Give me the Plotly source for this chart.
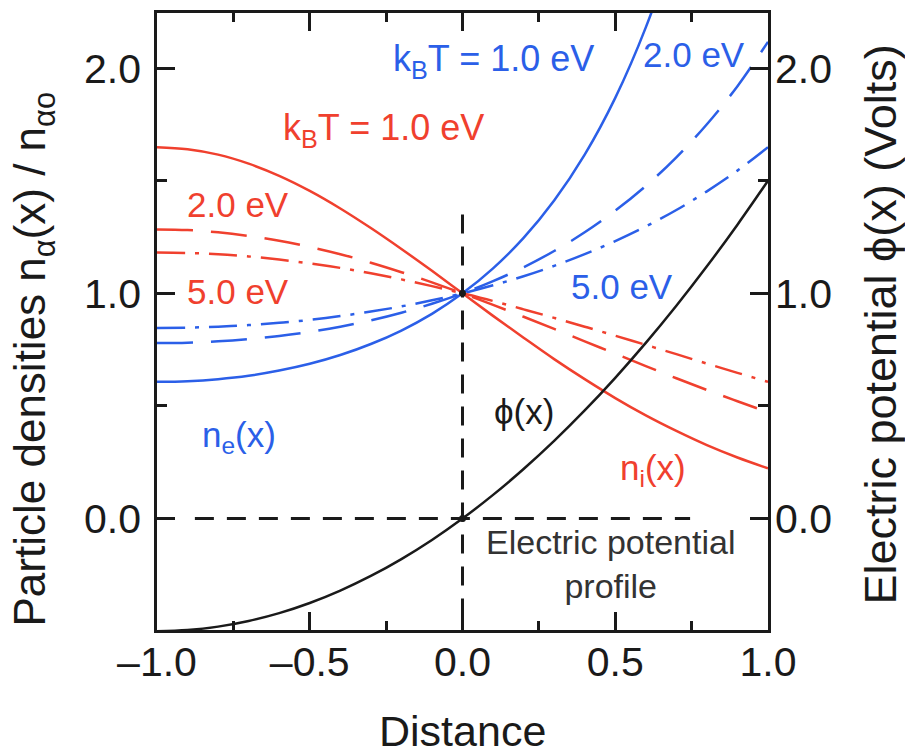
import plotly.graph_objects as go

# ---- data ----
x = [-1.0, -0.9, -0.8, -0.7, -0.6, -0.5, -0.4, -0.3, -0.2, -0.1, 0.0,
     0.1, 0.2, 0.3, 0.4, 0.5, 0.6, 0.7, 0.8, 0.9, 1.0]

phi = [-0.50, -0.495, -0.48, -0.455, -0.42, -0.375, -0.32, -0.255, -0.18, -0.095, 0.0,
       0.105, 0.22, 0.345, 0.48, 0.625, 0.78, 0.945, 1.12, 1.305, 1.50]

ne_1 = [0.607, 0.610, 0.619, 0.634, 0.657, 0.687, 0.726, 0.775, 0.835, 0.909, 1.0,
        1.111, 1.246, 1.412, 1.616, 1.868, 2.181, 2.573, 3.065, 3.687, 4.482]
ne_2 = [0.779, 0.781, 0.787, 0.797, 0.811, 0.829, 0.852, 0.880, 0.914, 0.954, 1.0,
        1.054, 1.116, 1.188, 1.271, 1.367, 1.477, 1.604, 1.751, 1.920, 2.117]
ne_5 = [0.846, 0.848, 0.852, 0.859, 0.869, 0.882, 0.899, 0.919, 0.942, 0.969, 1.0,
        1.036, 1.076, 1.122, 1.174, 1.232, 1.297, 1.370, 1.453, 1.545, 1.649]

ni_1 = [1.649, 1.640, 1.616, 1.576, 1.522, 1.455, 1.377, 1.290, 1.197, 1.100, 1.0,
        0.900, 0.803, 0.708, 0.619, 0.535, 0.458, 0.389, 0.326, 0.271, 0.223]
ni_2 = [1.284, 1.281, 1.271, 1.255, 1.234, 1.206, 1.174, 1.136, 1.094, 1.049, 1.0,
        0.949, 0.896, 0.842, 0.787, 0.732, 0.677, 0.623, 0.571, 0.521, 0.472]
ni_5 = [1.181, 1.179, 1.174, 1.164, 1.150, 1.133, 1.113, 1.089, 1.062, 1.032, 1.0,
        0.966, 0.929, 0.891, 0.852, 0.812, 0.771, 0.730, 0.688, 0.647, 0.607]

vline_x = [0.0, 0.0]
vline_y = [1.35, -0.5]
hline_x = [-0.876, 0.745]
hline_y = [0.0, 0.0]
dots_x = [0.0, 0.0]
dots_y = [1.0, 0.0]

x_ticks = [-1.0, -0.5, 0.0, 0.5, 1.0]
x_ticktext = ["–1.0", "–0.5", "0.0", "0.5", "1.0"]
y_ticks = [0.0, 1.0, 2.0]
y_ticktext = ["0.0", "1.0", "2.0"]

RED = "#F0402E"
BLUE = "#2B5FE8"
BLACK = "#1a1a1a"
FONT = "Liberation Sans, Arial, Helvetica, sans-serif"

LONGDASH = "36px,18px"
DASHDOT = "28px,10px,4px,10px"

fig = go.Figure()

# reference dashed lines
fig.add_trace(go.Scatter(x=vline_x, y=vline_y, mode="lines",
                         line=dict(color=BLACK, width=3, dash="19px,13px"), hoverinfo="skip"))
fig.add_trace(go.Scatter(x=hline_x, y=hline_y, mode="lines",
                         line=dict(color=BLACK, width=3, dash="19px,13px"), hoverinfo="skip"))

# potential (right axis)
fig.add_trace(go.Scatter(x=x, y=phi, mode="lines", yaxis="y2", line_shape="spline",
                         line=dict(color=BLACK, width=2.5)))

# electrons (blue)
fig.add_trace(go.Scatter(x=x, y=ne_5, mode="lines", line_shape="spline",
                         line=dict(color=BLUE, width=2.5, dash=DASHDOT)))
fig.add_trace(go.Scatter(x=x, y=ne_2, mode="lines", line_shape="spline",
                         line=dict(color=BLUE, width=2.5, dash=LONGDASH)))
fig.add_trace(go.Scatter(x=x, y=ne_1, mode="lines", line_shape="spline",
                         line=dict(color=BLUE, width=2.5)))

# ions (red)
fig.add_trace(go.Scatter(x=x, y=ni_5, mode="lines", line_shape="spline",
                         line=dict(color=RED, width=2.5, dash=DASHDOT)))
fig.add_trace(go.Scatter(x=x, y=ni_2, mode="lines", line_shape="spline",
                         line=dict(color=RED, width=2.5, dash=LONGDASH)))
fig.add_trace(go.Scatter(x=x, y=ni_1, mode="lines", line_shape="spline",
                         line=dict(color=RED, width=2.5)))

fig.add_trace(go.Scatter(x=dots_x, y=dots_y, mode="markers",
                         marker=dict(color=BLACK, size=7)))

def ann(text, xx, yy, color, size=35, xanchor="left", yanchor="middle", align="left"):
    fig.add_annotation(x=xx, y=yy, text=text, showarrow=False, xanchor=xanchor,
                       yanchor=yanchor, align=align,
                       font=dict(family=FONT, size=size, color=color))

ann("k<sub>B</sub>T = 1.0 eV", -0.235, 2.03, BLUE, size=36)
ann("2.0 eV", 0.583, 2.06, BLUE)
ann("5.0 eV", 0.348, 1.03, BLUE)
ann("k<sub>B</sub>T = 1.0 eV", -0.595, 1.725, RED, size=36)
ann("2.0 eV", -0.907, 1.395, RED)
ann("5.0 eV", -0.907, 1.01, RED)
ann("n<sub>e</sub>(x)", -0.858, 0.36, BLUE)
ann("n<sub>i</sub>(x)", 0.51, 0.215, RED)
ann("ϕ(x)", 0.095, 0.475, BLACK)
ann("Electric potential<br>profile", 0.483, -0.20, "#333333", size=34,
    xanchor="center", align="center")

# axis titles as paper-positioned annotations
fig.add_annotation(xref="paper", yref="paper", x=-0.203, y=0.44, textangle=-90,
                   text="Particle densities n<sub>α</sub>(x) / n<sub>αo</sub>",
                   showarrow=False, xanchor="center", yanchor="middle",
                   font=dict(family=FONT, size=44, color=BLACK))
fig.add_annotation(xref="paper", yref="paper", x=1.185, y=0.495, textangle=-90,
                   text="Electric potential ϕ(x) (Volts)",
                   showarrow=False, xanchor="center", yanchor="middle",
                   font=dict(family=FONT, size=45, color=BLACK))
fig.add_annotation(xref="paper", yref="paper", x=0.5, y=-0.164,
                   text="Distance", showarrow=False, xanchor="center", yanchor="middle",
                   font=dict(family=FONT, size=43, color=BLACK))

axis_common = dict(showgrid=False, zeroline=False, showline=True, linewidth=2.5,
                   linecolor=BLACK, ticks="inside", tickwidth=2.5, tickcolor=BLACK,
                   ticklen=18,
                   tickfont=dict(family=FONT, size=41, color=BLACK))

fig.update_layout(
    width=905, height=754,
    margin=dict(l=157, r=137, t=10, b=124),
    paper_bgcolor="white", plot_bgcolor="white",
    showlegend=False,
    font=dict(family=FONT, color=BLACK),
    xaxis=dict(range=[-1.0, 1.0], tickvals=x_ticks, ticktext=x_ticktext, mirror="ticks",
               minor=dict(ticks="inside", tickvals=[-0.75, -0.25, 0.25, 0.75],
                          ticklen=9, tickwidth=2.5, tickcolor=BLACK),
               ticklabelstandoff=-6,
               **axis_common),
    yaxis=dict(range=[-0.495, 2.245], tickvals=y_ticks, ticktext=y_ticktext, mirror=True,
               minor=dict(ticks="inside", tickvals=[0.5, 1.5],
                          ticklen=10, tickwidth=2.5, tickcolor=BLACK),
               ticklabelstandoff=5,
               **axis_common),
    yaxis2=dict(range=[-0.495, 2.245], tickvals=y_ticks, ticktext=y_ticktext,
                overlaying="y", side="right",
                minor=dict(ticks="inside", tickvals=[0.5, 1.5],
                           ticklen=10, tickwidth=2.5, tickcolor=BLACK),
                ticklabelstandoff=-4,
                **axis_common),
)

fig.write_html("out.html", config={"displayModeBar": False},
               post_script="document.body.style.margin='0px';")
